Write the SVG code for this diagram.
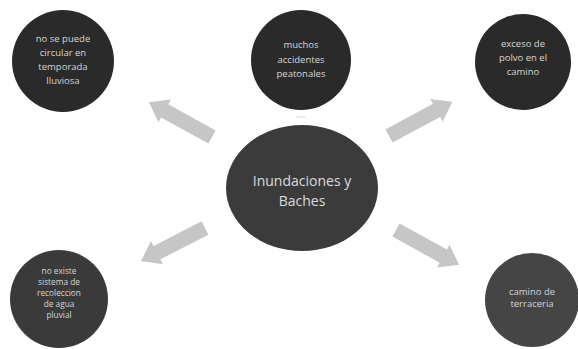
<svg xmlns="http://www.w3.org/2000/svg" xmlns:xlink="http://www.w3.org/1999/xlink" width="578" height="349" viewBox="0 0 578 349">
<defs>
<style>
.n{fill:#2a2a2a}
.c{fill:#3b3b3b}
.t{font-family:"Open Sans","Liberation Sans",sans-serif;fill:#d6d6d6;text-anchor:middle;font-size:9.5px}
.s{font-size:8.3px}
.tc{font-family:"Open Sans","Liberation Sans",sans-serif;fill:#dcdcdc;text-anchor:middle;font-size:14px}
.a{fill:#c6c6c6}
</style>
<path id="arr" d="M0,-7.5 L54,-7.5 L54,-13 L72,0 L54,13 L54,7.5 L0,7.5 Z"/>
</defs>
<rect width="578" height="349" fill="#ffffff"/>
<g id="connectors" class="a">
<use xlink:href="#arr" transform="translate(212,137) rotate(208.9)"/>
<use xlink:href="#arr" transform="translate(389,136) rotate(-28.4)"/>
<use xlink:href="#arr" transform="translate(205,228) rotate(152.8)"/>
<use xlink:href="#arr" transform="translate(396,230) rotate(28.9)"/>
</g>
<line x1="296" y1="117" x2="306" y2="117" stroke="#d8d8d8" stroke-width="1"/>
<g id="center">
<ellipse class="c" cx="302" cy="188" rx="76" ry="63"/>
<text class="tc" x="302" y="186">Inundaciones y</text>
<text class="tc" x="302" y="206">Baches</text>
</g>
<g id="n1">
<circle class="n" cx="63" cy="61" r="51"/>
<text class="t" x="63" y="42">no se puede</text>
<text class="t" x="63" y="56">circular en</text>
<text class="t" x="63" y="70">temporada</text>
<text class="t" x="63" y="84">lluviosa</text>
</g>
<g id="n2">
<circle class="n" cx="301" cy="60" r="50"/>
<text class="t" x="301" y="48">muchos</text>
<text class="t" x="301" y="63">accidentes</text>
<text class="t" x="301" y="77">peatonales</text>
</g>
<g id="n3">
<circle class="n" cx="523" cy="62" r="48"/>
<text class="t" x="523" y="47">exceso de</text>
<text class="t" x="523" y="61">polvo en el</text>
<text class="t" x="523" y="75">camino</text>
</g>
<g id="n4">
<circle cx="59" cy="299" r="49" fill="#3a3a3a"/>
<text class="t s" x="59" y="274">no existe</text>
<text class="t s" x="59" y="285">sistema de</text>
<text class="t s" x="59" y="296">recoleccion</text>
<text class="t s" x="59" y="307">de agua</text>
<text class="t s" x="59" y="318">pluvial</text>
</g>
<g id="n5">
<circle cx="532" cy="300" r="47" fill="#454545"/>
<text class="t" x="532" y="295">camino de</text>
<text class="t" x="532" y="307">terraceria</text>
</g>
</svg>
